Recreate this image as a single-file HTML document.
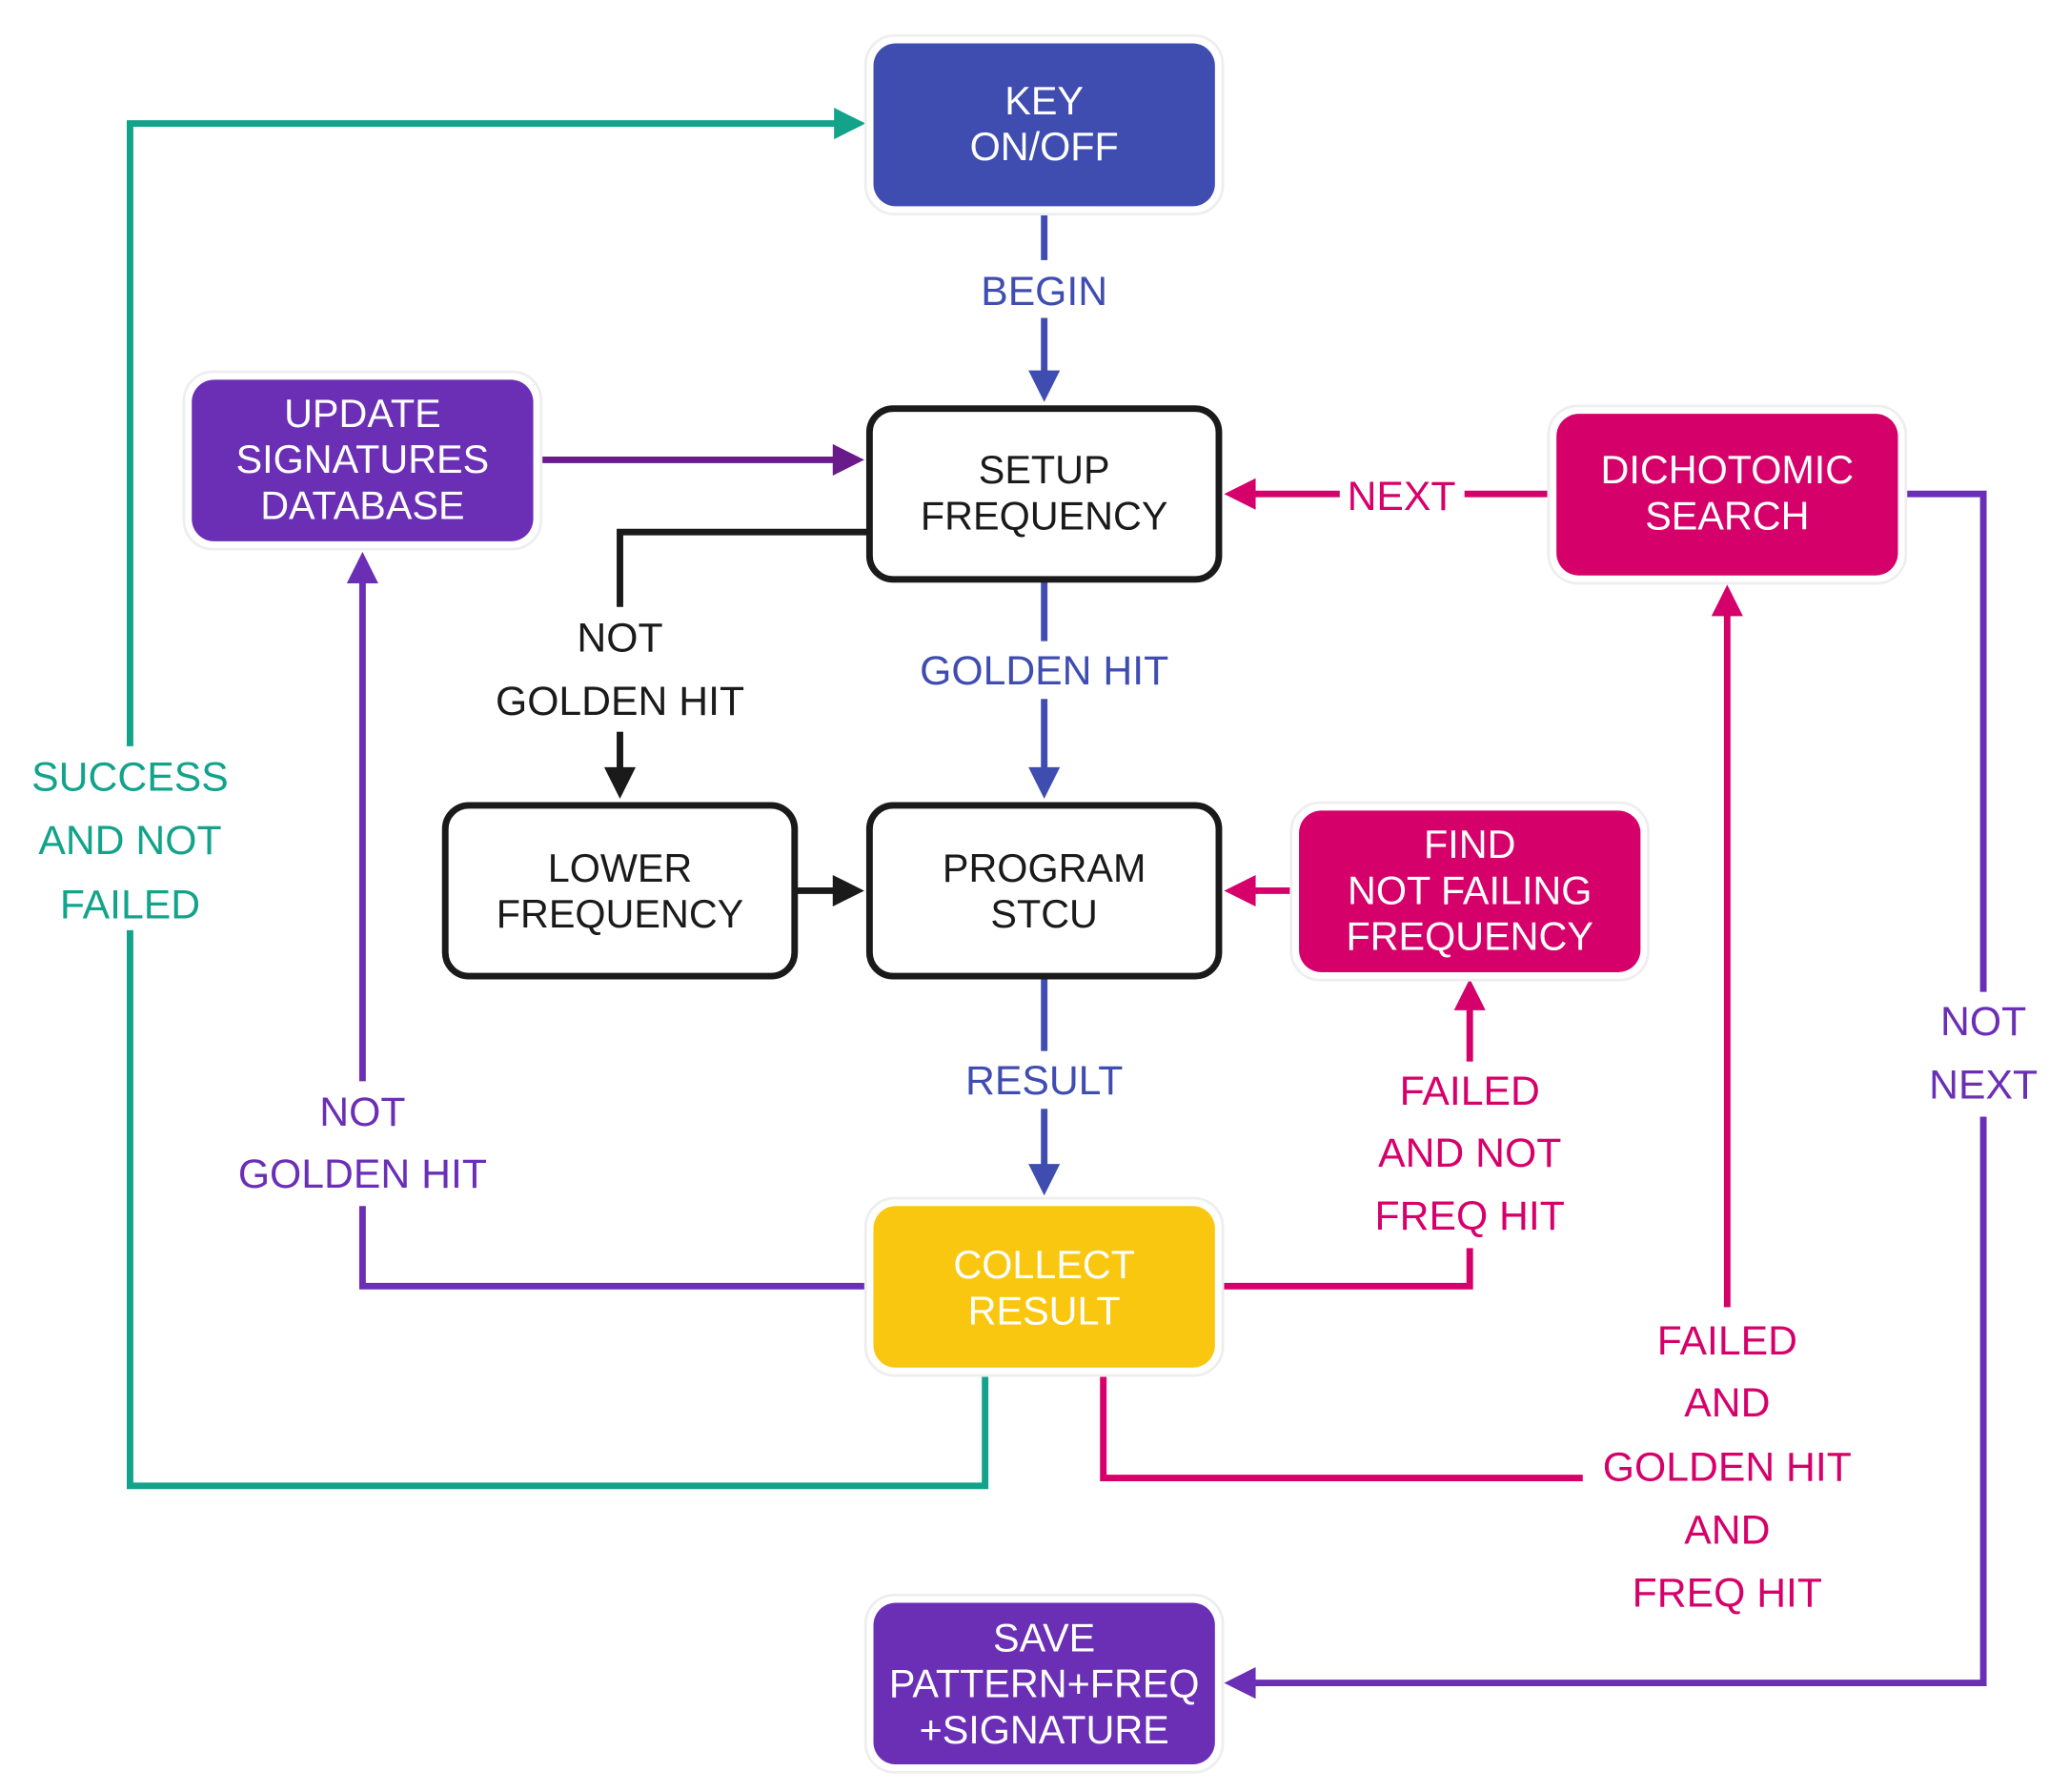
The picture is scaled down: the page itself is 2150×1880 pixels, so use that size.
<!DOCTYPE html>
<html><head><meta charset="utf-8"><style>
html,body{margin:0;padding:0;background:#fff;}
svg{display:block;}
text{font-family:"Liberation Sans",sans-serif;text-anchor:middle;}
</style></head><body>
<svg width="2150" height="1880" viewBox="0 0 1560 1364" preserveAspectRatio="none" xmlns="http://www.w3.org/2000/svg">
<defs>
<marker id="aB" markerWidth="8" markerHeight="8" refX="7" refY="4" orient="auto" markerUnits="userSpaceOnUse" viewBox="0 0 8 8"><path d="M0,0L8,4L0,8z" fill="#3f4db0"/></marker>
</defs>
<g fill="none" stroke-width="5">
<!-- teal -->
<path d="M750,1048V1131H99V94H640" stroke="#12a38a"/>
<path d="M635,82L659,94L635,106z" fill="#12a38a" stroke="none"/>
<!-- begin -->
<path d="M795,163V285" stroke="#3f4db0"/>
<path d="M783,282L795,306L807,282z" fill="#3f4db0" stroke="none"/>
<!-- update->setup -->
<path d="M412,350H638" stroke="#6a1b8a"/>
<path d="M634,338L658,350L634,362z" fill="#6a1b8a" stroke="none"/>
<!-- next -->
<path d="M1178,376H952" stroke="#d6006a"/>
<path d="M956,364L932,376L956,388z" fill="#d6006a" stroke="none"/>
<!-- not golden hit black -->
<path d="M661,405H472V588" stroke="#1a1a1a"/>
<path d="M460,584L472,608L484,584z" fill="#1a1a1a" stroke="none"/>
<!-- golden hit blue -->
<path d="M795,442V588" stroke="#3f4db0"/>
<path d="M783,584L795,608L807,584z" fill="#3f4db0" stroke="none"/>
<!-- lower->program -->
<path d="M606,678H638" stroke="#1a1a1a"/>
<path d="M634,666L658,678L634,690z" fill="#1a1a1a" stroke="none"/>
<!-- find->program -->
<path d="M985,678H952" stroke="#d6006a"/>
<path d="M956,666L932,678L956,690z" fill="#d6006a" stroke="none"/>
<!-- result -->
<path d="M795,744V890" stroke="#3f4db0"/>
<path d="M783,886L795,910L807,886z" fill="#3f4db0" stroke="none"/>
<!-- not golden hit purple -->
<path d="M661,979H276V440" stroke="#6a2fb5"/>
<path d="M264,444L276,420L288,444z" fill="#6a2fb5" stroke="none"/>
<!-- failed and not freq hit -->
<path d="M929,979H1119V765" stroke="#d6006a"/>
<path d="M1107,769L1119,745L1131,769z" fill="#d6006a" stroke="none"/>
<!-- failed and golden hit -->
<path d="M840,1048V1125H1205" stroke="#d6006a"/>
<path d="M1315,995V465" stroke="#d6006a"/>
<path d="M1303,469L1315,445L1327,469z" fill="#d6006a" stroke="none"/>
<!-- not next -->
<path d="M1452,376H1510V1281H952" stroke="#6a2fb5"/>
<path d="M956,1269L932,1281L956,1293z" fill="#6a2fb5" stroke="none"/>
</g>
<!-- label backgrounds -->
<g fill="#fff">
<rect x="740" y="198" width="110" height="44"/>
<rect x="690" y="488" width="210" height="44"/>
<rect x="730" y="800" width="130" height="44"/>
<rect x="1020" y="355" width="95" height="44"/>
<rect x="365" y="462" width="215" height="95"/>
<rect x="20" y="568" width="160" height="140"/>
<rect x="170" y="823" width="215" height="95"/>
<rect x="1035" y="808" width="170" height="142"/>
<rect x="1460" y="755" width="100" height="95"/>
</g>
<!-- nodes -->
<g stroke="#eee" stroke-width="2" fill="#fff">
<rect x="659" y="27" width="272" height="136" rx="22"/>
<rect x="140" y="283" width="272" height="135" rx="22"/>
<rect x="1179" y="309" width="272" height="135" rx="22"/>
<rect x="983" y="611" width="272" height="135" rx="22"/>
<rect x="659" y="912" width="272" height="135" rx="22"/>
<rect x="659" y="1214" width="272" height="135" rx="22"/>
</g>
<rect x="665" y="33" width="260" height="124" rx="17" fill="#3f4db0"/>
<rect x="146" y="289" width="260" height="123" rx="17" fill="#6a2fb5"/>
<rect x="1185" y="315" width="260" height="123" rx="17" fill="#d6006a"/>
<rect x="989" y="617" width="260" height="123" rx="17" fill="#d6006a"/>
<rect x="665" y="918" width="260" height="123" rx="17" fill="#f9c710"/>
<rect x="665" y="1220" width="260" height="123" rx="17" fill="#6a2fb5"/>
<g fill="#fff" stroke="#1a1a1a" stroke-width="5">
<rect x="662" y="311" width="266" height="130" rx="18"/>
<rect x="339" y="613" width="266" height="130" rx="18"/>
<rect x="662" y="613" width="266" height="130" rx="18"/>
</g>
<!-- node text -->
<g font-size="30" fill="#fff">
<text x="795" y="87">KEY</text><text x="795" y="122">ON/OFF</text>
<text x="276" y="325">UPDATE</text><text x="276" y="360">SIGNATURES</text><text x="276" y="395">DATABASE</text>
<text x="1315" y="368">DICHOTOMIC</text><text x="1315" y="403">SEARCH</text>
<text x="1119" y="653">FIND</text><text x="1119" y="688">NOT FAILING</text><text x="1119" y="723">FREQUENCY</text>
<text x="795" y="973">COLLECT</text><text x="795" y="1008">RESULT</text>
<text x="795" y="1257">SAVE</text><text x="795" y="1292">PATTERN+FREQ</text><text x="795" y="1327">+SIGNATURE</text>
</g>
<g font-size="30" fill="#1a1a1a">
<text x="795" y="368">SETUP</text><text x="795" y="403">FREQUENCY</text>
<text x="472" y="671">LOWER</text><text x="472" y="706">FREQUENCY</text>
<text x="795" y="671">PROGRAM</text><text x="795" y="706">STCU</text>
</g>
<!-- labels -->
<g font-size="31">
<text x="795" y="232" fill="#3f4db0">BEGIN</text>
<text x="795" y="521" fill="#3f4db0">GOLDEN HIT</text>
<text x="795" y="833" fill="#3f4db0">RESULT</text>
<text x="1067" y="388" fill="#d6006a">NEXT</text>
<text x="472" y="496" fill="#1a1a1a">NOT</text><text x="472" y="544" fill="#1a1a1a">GOLDEN HIT</text>
<g fill="#12a38a"><text x="99" y="602">SUCCESS</text><text x="99" y="650">AND NOT</text><text x="99" y="699">FAILED</text></g>
<g fill="#6a2fb5"><text x="276" y="857">NOT</text><text x="276" y="904">GOLDEN HIT</text>
<text x="1510" y="788">NOT</text><text x="1510" y="836">NEXT</text></g>
<g fill="#d6006a"><text x="1119" y="841">FAILED</text><text x="1119" y="888">AND NOT</text><text x="1119" y="936">FREQ HIT</text>
<text x="1315" y="1031">FAILED</text><text x="1315" y="1078">AND</text><text x="1315" y="1127">GOLDEN HIT</text><text x="1315" y="1175">AND</text><text x="1315" y="1223">FREQ HIT</text></g>
</g>
</svg>
</body></html>
